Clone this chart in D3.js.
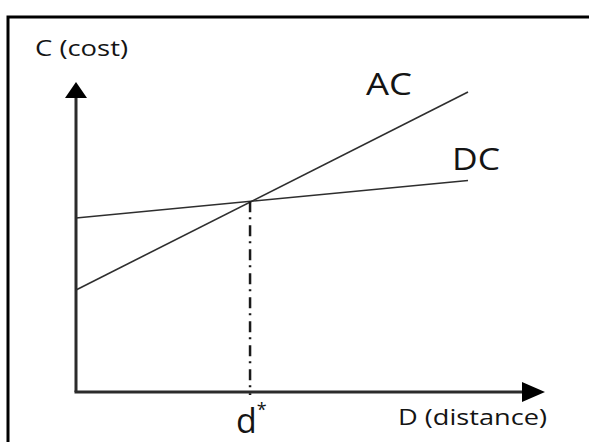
<!DOCTYPE html>
<html>
<head>
<meta charset="utf-8">
<script src="https://cdn.jsdelivr.net/npm/d3@7"></script>
<style>
  html, body { margin: 0; padding: 0; background: #fff; }
  svg text { font-family: "Open Sans", "DejaVu Sans", sans-serif; fill: #141414; }
</style>
</head>
<body>
<div id="chart"></div>
<script>
// cost lines, [distance, cost] at the two ends
const acLine = [[0, 3.4], [10, 10]];
const dcLine = [[0, 5.8], [10, 7.05]];
const dStar = 4.44;
const lineLabels = ["AC", "DC"];
const axisLabels = ["C (cost)", "D (distance)"];

const width = 589, height = 442;

const svg = d3.select("#chart")
  .append("svg")
  .attr("width", width)
  .attr("height", height);

// outer frame (cut off on right and bottom like the screenshot)
svg.append("rect")
  .attr("x", 8).attr("y", 17)
  .attr("width", 620).attr("height", 500)
  .attr("fill", "none")
  .attr("stroke", "#000")
  .attr("stroke-width", 3);

const x = d3.scaleLinear().domain([0, 10]).range([76, 468]);
const y = d3.scaleLinear().domain([0, 10]).range([392, 92]);

const xMax = x.invert(545), yMax = y.invert(82);

// axes with arrowheads
const axisColor = "#2b2b2b";
svg.append("line")
  .attr("x1", x(0)).attr("y1", y(0))
  .attr("x2", x(0)).attr("y2", y(yMax) + 12)
  .attr("stroke", axisColor).attr("stroke-width", 3);
svg.append("line")
  .attr("x1", x(0) - 1.5).attr("y1", y(0))
  .attr("x2", x(xMax) - 12).attr("y2", y(0))
  .attr("stroke", axisColor).attr("stroke-width", 3);

const ax = x(0), ay = y(yMax);
svg.append("path")
  .attr("d", `M${ax},${ay} L${ax + 11},${ay + 16} L${ax - 11},${ay + 16} Z`)
  .attr("fill", "#000");
const bx = x(xMax), by = y(0);
svg.append("path")
  .attr("d", `M${bx},${by} L${bx - 23},${by - 10} L${bx - 23},${by + 10} Z`)
  .attr("fill", "#000");

// cost lines
const line = d3.line().x((d) => x(d[0])).y((d) => y(d[1]));
[acLine, dcLine].forEach((pts) => {
  svg.append("path")
    .attr("d", line(pts))
    .attr("fill", "none")
    .attr("stroke", "#2e2e2e")
    .attr("stroke-width", 1.6);
});

// d* drop line
const dcAt = (v) => dcLine[0][1] + (dcLine[1][1] - dcLine[0][1]) * (v - dcLine[0][0]) / (dcLine[1][0] - dcLine[0][0]);
svg.append("line")
  .attr("x1", x(dStar)).attr("y1", y(dcAt(dStar)))
  .attr("x2", x(dStar)).attr("y2", y(0) + 3)
  .attr("stroke", "#1a1a1a")
  .attr("stroke-width", 2.5)
  .attr("stroke-dasharray", "11,5,2,6");

// labels
svg.append("text")
  .attr("x", 366).attr("y", 95)
  .attr("font-size", 31)
  .attr("textLength", 46).attr("lengthAdjust", "spacingAndGlyphs")
  .text(lineLabels[0]);
svg.append("text")
  .attr("x", 452).attr("y", 170)
  .attr("font-size", 31)
  .attr("textLength", 48).attr("lengthAdjust", "spacingAndGlyphs")
  .text(lineLabels[1]);

svg.append("text")
  .attr("x", 35).attr("y", 56)
  .attr("font-size", 22)
  .attr("textLength", 93).attr("lengthAdjust", "spacingAndGlyphs")
  .text(axisLabels[0]);
svg.append("text")
  .attr("x", 398).attr("y", 425)
  .attr("font-size", 22)
  .attr("textLength", 149).attr("lengthAdjust", "spacingAndGlyphs")
  .text(axisLabels[1]);

const dLab = svg.append("text")
  .attr("x", 236).attr("y", 433)
  .attr("font-size", 34);
dLab.append("tspan").text("d");
dLab.append("tspan")
  .attr("font-size", 18)
  .attr("dy", -17)
  .text("*");
</script>
</body>
</html>
